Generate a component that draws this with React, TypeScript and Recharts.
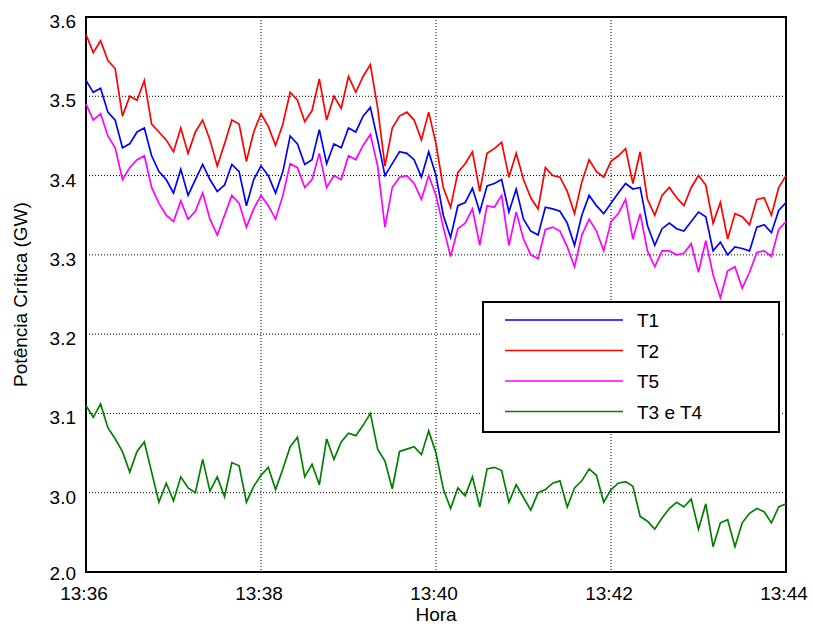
import { LineChart, Line, XAxis, YAxis, CartesianGrid, Legend, ReferenceArea } from 'recharts';

// time in seconds after 13:36:00
const seconds = [
  0, 5, 10, 15, 20, 25, 30, 35, 40, 45,
  50, 55, 60, 65, 70, 75, 80, 85, 90, 95,
  100, 105, 110, 115, 120, 125, 130, 135, 140, 145,
  150, 155, 160, 165, 170, 175, 180, 185, 190, 195,
  200, 205, 210, 215, 220, 225, 230, 235, 240, 245,
  250, 255, 260, 265, 270, 275, 280, 285, 290, 295,
  300, 305, 310, 315, 320, 325, 330, 335, 340, 345,
  350, 355, 360, 365, 370, 375, 380, 385, 390, 395,
  400, 405, 410, 415, 420, 425, 430, 435, 440, 445,
  450, 455, 460, 465, 470, 475, 480,
];

const t1 = [
  3.520, 3.505, 3.510, 3.480, 3.470, 3.435, 3.440, 3.455, 3.460, 3.425,
  3.405, 3.395, 3.378, 3.408, 3.375, 3.395, 3.414, 3.395, 3.380, 3.388,
  3.414, 3.405, 3.362, 3.395, 3.412, 3.400, 3.378, 3.405, 3.450, 3.440,
  3.414, 3.420, 3.458, 3.415, 3.440, 3.435, 3.460, 3.455, 3.475, 3.486,
  3.445, 3.400, 3.415, 3.430, 3.428, 3.420, 3.398, 3.430, 3.400, 3.350,
  3.322, 3.362, 3.366, 3.384, 3.354, 3.387, 3.390, 3.395, 3.354, 3.383,
  3.345, 3.330, 3.325, 3.360, 3.358, 3.355, 3.340, 3.312, 3.350, 3.375,
  3.362, 3.352, 3.365, 3.378, 3.390, 3.383, 3.385, 3.337, 3.312, 3.333,
  3.340, 3.333, 3.330, 3.342, 3.354, 3.348, 3.305, 3.316, 3.300, 3.310,
  3.308, 3.305, 3.335, 3.338, 3.328, 3.356, 3.366,
];

const t2 = [
  3.578, 3.555, 3.570, 3.545, 3.535, 3.475, 3.500, 3.495, 3.520, 3.465,
  3.455, 3.445, 3.430, 3.460, 3.428, 3.455, 3.470, 3.445, 3.412, 3.440,
  3.470, 3.465, 3.418, 3.455, 3.478, 3.462, 3.438, 3.465, 3.505, 3.495,
  3.468, 3.482, 3.522, 3.470, 3.500, 3.485, 3.525, 3.505, 3.525, 3.540,
  3.485, 3.412, 3.460, 3.475, 3.480, 3.470, 3.445, 3.480, 3.440, 3.385,
  3.360, 3.404, 3.415, 3.430, 3.380, 3.428, 3.434, 3.442, 3.398, 3.428,
  3.395, 3.372, 3.358, 3.410, 3.400, 3.398, 3.380, 3.352, 3.392, 3.420,
  3.405, 3.398, 3.418, 3.425, 3.434, 3.390, 3.430, 3.370, 3.350, 3.375,
  3.385, 3.372, 3.362, 3.385, 3.400, 3.388, 3.340, 3.366, 3.320, 3.352,
  3.348, 3.338, 3.370, 3.372, 3.350, 3.385, 3.400,
];

const t5 = [
  3.490, 3.470, 3.478, 3.450, 3.435, 3.395, 3.410, 3.420, 3.425, 3.385,
  3.365, 3.350, 3.342, 3.368, 3.345, 3.355, 3.378, 3.345, 3.325, 3.350,
  3.375, 3.365, 3.335, 3.358, 3.375, 3.362, 3.345, 3.375, 3.415, 3.410,
  3.385, 3.395, 3.428, 3.385, 3.400, 3.395, 3.425, 3.420, 3.438, 3.452,
  3.412, 3.335, 3.385, 3.398, 3.400, 3.390, 3.370, 3.400, 3.375, 3.335,
  3.298, 3.333, 3.340, 3.358, 3.312, 3.362, 3.360, 3.375, 3.312, 3.354,
  3.320, 3.300, 3.295, 3.332, 3.335, 3.330, 3.310, 3.285, 3.325, 3.345,
  3.330, 3.305, 3.342, 3.352, 3.370, 3.320, 3.352, 3.305, 3.285, 3.305,
  3.305, 3.300, 3.302, 3.314, 3.278, 3.318, 3.275, 3.246, 3.280, 3.285,
  3.258, 3.278, 3.303, 3.305, 3.298, 3.332, 3.342,
];

const t34 = [
  3.110, 3.095, 3.112, 3.082, 3.068, 3.052, 3.026, 3.052, 3.064, 3.026,
  2.988, 3.012, 2.990, 3.020, 3.006, 3.000, 3.042, 3.002, 3.020, 2.995,
  3.038, 3.034, 2.988, 3.008, 3.022, 3.032, 3.004, 3.030, 3.058, 3.070,
  3.020, 3.036, 3.010, 3.068, 3.042, 3.064, 3.075, 3.072, 3.085, 3.100,
  3.055, 3.040, 3.005, 3.052, 3.055, 3.058, 3.048, 3.078, 3.050, 3.005,
  2.980, 3.006, 2.996, 3.020, 2.982, 3.030, 3.032, 3.028, 2.988, 3.010,
  2.994, 2.978, 3.000, 3.004, 3.012, 3.015, 2.982, 3.006, 3.015, 3.030,
  3.022, 2.988, 3.004, 3.012, 3.014, 3.008, 2.970, 2.964, 2.954, 2.968,
  2.980, 2.988, 2.982, 2.992, 2.954, 2.986, 2.932, 2.962, 2.966, 2.932,
  2.962, 2.974, 2.980, 2.976, 2.962, 2.982, 2.986,
];

const xTicks = [0, 120, 240, 360, 480];
const xTickLabels = ['13:36', '13:38', '13:40', '13:42', '13:44'];
// the lowest tick is printed as "2.0" in the original figure
const yTicks = [2.9, 3.0, 3.1, 3.2, 3.3, 3.4, 3.5, 3.6];
const yTickLabels = ['2.0', '3.0', '3.1', '3.2', '3.3', '3.4', '3.5', '3.6'];

const series = [
  { key: 'T1', color: '#0000ff' },
  { key: 'T2', color: '#ff0000' },
  { key: 'T5', color: '#ff00ff' },
  { key: 'T3 e T4', color: '#008000' },
];

const data = seconds.map((s, i) => ({
  s,
  T1: t1[i],
  T2: t2[i],
  T5: t5[i],
  'T3 e T4': t34[i],
}));

const FONT = '"Liberation Sans", Arial, sans-serif';

const XTick = (props: any) => {
  const { x, y, payload } = props;
  const i = xTicks.indexOf(payload.value);
  return (
    <text x={x - 2} y={y + 20} textAnchor="middle" fontFamily={FONT} fontSize={19} fill="#000">
      {xTickLabels[i]}
    </text>
  );
};

const YTick = (props: any) => {
  const { x, y, payload } = props;
  const i = yTicks.findIndex((v) => Math.abs(v - payload.value) < 1e-6);
  // bottom label sits a little higher so it clears the 13:36 label
  const dy = i === 0 ? 8 : 11;
  return (
    <text x={x} y={y + dy} textAnchor="end" fontFamily={FONT} fontSize={19} fill="#000">
      {yTickLabels[i]}
    </text>
  );
};

// legend keeps the original order T1, T2, T5, T3 e T4
const LegendBox = () => (
  <svg width={298} height={132} style={{ display: 'block' }}>
    <rect x={1} y={1} width={296} height={130} fill="#fff" stroke="#000" strokeWidth={2} />
    {series.map((it, i) => (
      <g key={it.key}>
        <line x1={23} x2={141} y1={19 + i * 30.5} y2={19 + i * 30.5} stroke={it.color} strokeWidth={1.5} />
        <text x={155} y={26 + i * 30.5} fontFamily={FONT} fontSize={19} fill="#000">
          {it.key}
        </text>
      </g>
    ))}
  </svg>
);

export default function App() {
  return (
    <div style={{ position: 'absolute', left: 0, top: 0, width: 813, height: 627, background: '#fff' }}>
      <LineChart width={813} height={627} data={data} margin={{ top: 17, right: 27, left: 0, bottom: 0 }}>
        <CartesianGrid stroke="#000" strokeDasharray="1 2" strokeWidth={1} />
        <XAxis
          dataKey="s"
          type="number"
          domain={[0, 480]}
          ticks={xTicks}
          tick={<XTick />}
          tickLine={false}
          axisLine={false}
          height={55}
          label={{
            content: (p: any) => (
              <text
                x={p.viewBox.x + p.viewBox.width / 2}
                y={p.viewBox.y + 49}
                textAnchor="middle"
                fontFamily={FONT}
                fontSize={19}
                fill="#000"
              >
                Hora
              </text>
            ),
          }}
        />
        <YAxis
          type="number"
          domain={[2.9, 3.6]}
          ticks={yTicks}
          tick={<YTick />}
          tickLine={false}
          axisLine={false}
          tickMargin={4}
          width={86}
          label={{
            content: (p: any) => {
              const cx = 27;
              const cy = p.viewBox.y + p.viewBox.height / 2;
              return (
                <text
                  x={cx}
                  y={cy}
                  transform={`rotate(-90 ${cx} ${cy})`}
                  textAnchor="middle"
                  fontFamily={FONT}
                  fontSize={19}
                  fill="#000"
                >
                  Potência Crítica (GW)
                </text>
              );
            },
          }}
        />
        <ReferenceArea x1={0} x2={480} y1={2.9} y2={3.6} fill="none" stroke="#000" strokeWidth={2} ifOverflow="visible" />
        {series.map((s) => (
          <Line
            key={s.key}
            type="linear"
            dataKey={s.key}
            stroke={s.color}
            strokeWidth={1.7}
            dot={false}
            isAnimationActive={false}
          />
        ))}
        <Legend
          layout="vertical"
          align="center"
          verticalAlign="middle"
          content={<LegendBox />}
          wrapperStyle={{ position: 'absolute', left: 482, top: 301, width: 298, height: 132 }}
        />
      </LineChart>
    </div>
  );
}
